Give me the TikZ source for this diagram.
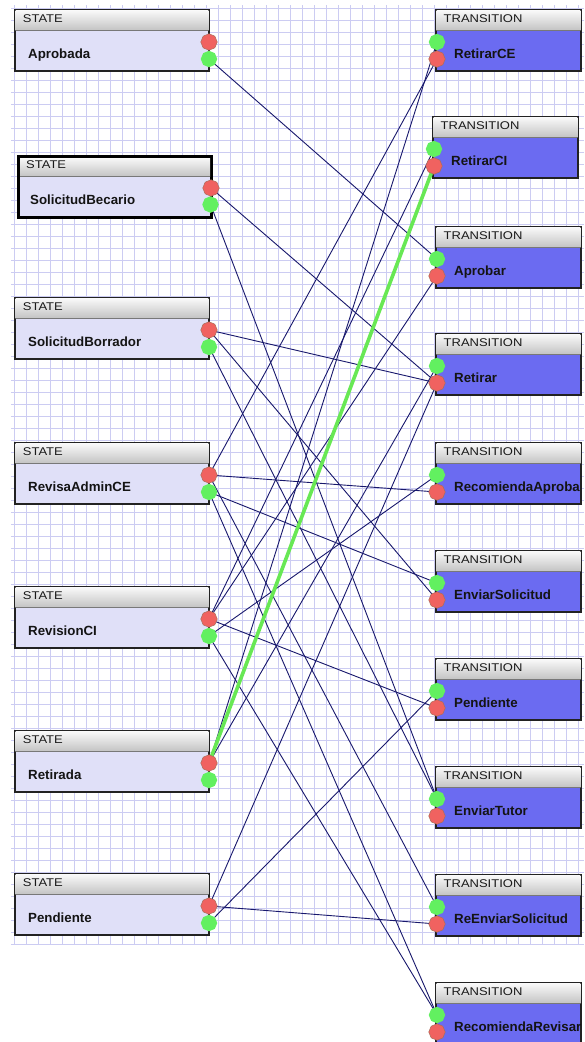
\documentclass[tikz,border=0pt]{standalone}
\usepackage{fontspec}
\setmainfont{Liberation Sans}
\newfontfamily\hdrfont[FakeStretch=1.16]{Liberation Sans}
\usetikzlibrary{shapes.geometric}

\definecolor{gridc}{RGB}{204,204,242}
\definecolor{stfill}{RGB}{224,224,248}
\definecolor{trfill}{RGB}{107,107,241}
\definecolor{hdtop}{RGB}{248,248,248}
\definecolor{hdbot}{RGB}{196,196,196}
\definecolor{hdline}{RGB}{120,120,120}
\definecolor{edge}{RGB}{34,34,34}
\definecolor{wire}{RGB}{24,24,108}
\definecolor{hot}{RGB}{104,232,84}
\definecolor{pred}{RGB}{240,98,96}
\definecolor{predrim}{RGB}{170,110,90}
\definecolor{pgreen}{RGB}{98,240,96}

\tikzset{
  gridline/.style={draw=gridc, line width=1pt},
  stbody/.style={draw=edge, line width=1.3pt, fill=stfill, rectangle,
    minimum width=194pt, minimum height=61pt, inner sep=0pt, outer sep=0pt},
  trbody/.style={draw=edge, line width=1.3pt, fill=trfill, rectangle,
    minimum width=145pt, minimum height=61pt, inner sep=0pt, outer sep=0pt},
  hdtext/.style={anchor=base west, inner sep=0pt, text=black!90,
    font=\hdrfont\fontsize{11.2}{11.2}\selectfont},
  lbl/.style={anchor=base west, inner sep=0pt, text=black!92,
    font=\bfseries\fontsize{13.3}{13.3}\selectfont},
  redport/.style={regular polygon, regular polygon sides=8, shape border rotate=22.5,
    minimum size=16.5pt, inner sep=0pt, fill=pred, draw=predrim, line width=0.5pt},
  greenport/.style={regular polygon, regular polygon sides=8, shape border rotate=22.5,
    minimum size=16.5pt, inner sep=0pt, fill=pgreen},
  wire/.style={draw=wire, line width=0.9pt},
  hotwire/.style={draw=hot, line width=3.6pt},
}

% a state box: name, top edge, label
\newcommand\stnode[3]{%
  \node[stbody, anchor=north west] (#1) at (15,#2) {};
  \shade[top color=hdtop, bottom color=hdbot] (15.7,{#2+0.7}) rectangle (208.3,{#2+20});
  \draw[hdline, line width=0.8pt] (15.7,{#2+20}) -- (208.3,{#2+20});
  \node[hdtext] (#1-h) at (22.7,{#2+12.7}) {STATE};
  \node[lbl] (#1-l) at (28,{#2+48}) {#3};
  \coordinate (#1-r) at (209,{#2+32});
  \coordinate (#1-g) at (209,{#2+49});
}
% a transition box: name, left edge, top edge, label
\newcommand\trnode[4]{%
  \node[trbody, anchor=north west] (#1) at (#2,#3) {};
  \shade[top color=hdtop, bottom color=hdbot] ({#2+0.7},{#3+0.7}) rectangle ({#2+144.3},{#3+20});
  \draw[hdline, line width=0.8pt] ({#2+0.7},{#3+20}) -- ({#2+144.3},{#3+20});
  \node[hdtext] (#1-h) at ({#2+7.5},{#3+12.7}) {TRANSITION};
  \node[lbl] (#1-l) at ({#2+18},{#3+48}) {#4};
  \coordinate (#1-g) at ({#2+1},{#3+32});
  \coordinate (#1-r) at ({#2+1},{#3+49});
}

\begin{document}
\begin{tikzpicture}[x=1pt, y=-1pt]
\useasboundingbox (0,0) rectangle (584,1042);
\clip (0,0) rectangle (584,1042);
\fill[white] (0,0) rectangle (584,1042);

% background grid
\begin{scope}
  \clip (11,5) rectangle (584,945);
  \foreach \gx in {14,26,...,590} \draw[gridline] (\gx,5) -- (\gx,945);
  \foreach \gy in {8,20,...,944} \draw[gridline] (11,\gy) -- (584,\gy);
\end{scope}

% states
\stnode{Apr}{10}{Aprobada}
% the selected state has a heavy frame
\node[stbody, line width=3pt, draw=black, anchor=north west,
  minimum width=193pt, minimum height=61pt] (SBe) at (18.5,156.5) {};
\shade[top color=hdtop, bottom color=hdbot] (20,158) rectangle (210,176);
\draw[hdline, line width=0.8pt] (20,176) -- (210,176);
\node[hdtext] (SBe-h) at (26,168.5) {STATE};
\node[lbl] (SBe-l) at (30,204.5) {SolicitudBecario};
\coordinate (SBe-r) at (211,188);
\coordinate (SBe-g) at (210.5,204.5);
\stnode{SBo}{298}{SolicitudBorrador}
\stnode{RAd}{443}{RevisaAdminCE}
\stnode{RCI}{587}{RevisionCI}
\stnode{Ret}{731}{Retirada}
\stnode{Pen}{874}{Pendiente}

% transitions
\trnode{tRCE}{436}{10}{RetirarCE}
\trnode{tRCI}{433}{117}{RetirarCI}
\trnode{tApr}{436}{227}{Aprobar}
\trnode{tRet}{436}{334}{Retirar}
\trnode{tRAp}{436}{443}{RecomiendaAproba}
\trnode{tEnv}{436}{551}{EnviarSolicitud}
\trnode{tPen}{436}{659}{Pendiente}
\trnode{tTut}{436}{767}{EnviarTutor}
\trnode{tReE}{436}{875}{ReEnviarSolicitud}
\trnode{tRRe}{436}{983}{RecomiendaRevisar}

% arcs
\draw[wire] (Apr-g) -- (tApr-g);
\draw[wire] (SBe-r) -- (tRet-r);
\draw[wire] (SBe-g) -- (tTut-g);
\draw[wire] (SBo-r) -- (tRet-r);
\draw[wire] (SBo-r) -- (tEnv-r);
\draw[wire] (SBo-g) -- (tTut-g);
\draw[wire] (RAd-r) -- (tRCE-r);
\draw[wire] (RAd-r) -- (tRAp-r);
\draw[wire] (RAd-r) -- (tReE-g);
\draw[wire] (RAd-g) -- (tEnv-g);
\draw[wire] (RAd-g) -- (tRRe-g);
\draw[wire] (RCI-r) -- (tRCI-g);
\draw[wire] (RCI-r) -- (tApr-r);
\draw[wire] (RCI-r) -- (tPen-r);
\draw[wire] (RCI-g) -- (tRAp-g);
\draw[wire] (RCI-g) -- (tRRe-g);
\draw[wire] (Ret-r) -- (tRCE-g);
\draw[wire] (Ret-r) -- (tRet-g);
\draw[wire] (Pen-r) -- (tReE-r);
\draw[wire] (Pen-r) -- (tRet-r);
\draw[wire] (Pen-g) -- (tPen-g);
\draw[hotwire] (Ret-r) -- (tRCI-r);

% ports
\foreach \p in {Apr,SBe,SBo,RAd,RCI,Ret,Pen,tRCE,tRCI,tApr,tRet,tRAp,tEnv,tPen,tTut,tReE,tRRe}{
  \node[redport] at (\p-r) {};
  \node[greenport] at (\p-g) {};
}
\end{tikzpicture}
\end{document}
